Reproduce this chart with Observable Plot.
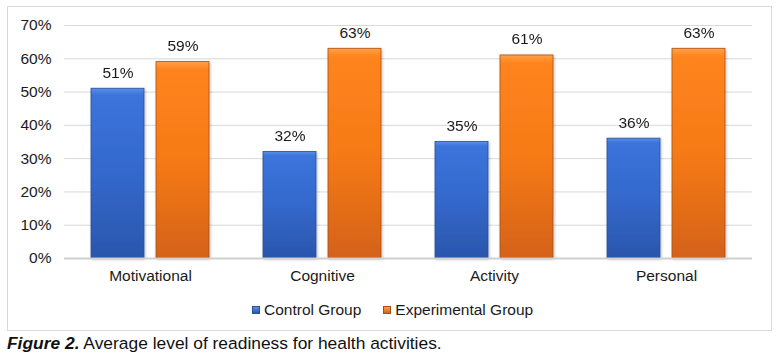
<!DOCTYPE html>
<html><head><meta charset="utf-8">
<script src="https://cdn.jsdelivr.net/npm/d3@7"></script>
<script src="https://cdn.jsdelivr.net/npm/@observablehq/plot@0.6"></script>
<style>
body{margin:0;background:#fff;font-family:"Liberation Sans",Arial,sans-serif;}
#wrap{position:relative;width:780px;height:357px;overflow:hidden;}
#frame{position:absolute;left:7px;top:6px;width:765px;height:325px;border:1px solid #d9d9d9;box-sizing:border-box;}
#chart{position:absolute;left:0;top:0;}
#legend{position:absolute;left:252px;top:301px;font-size:15.5px;color:#1a1a1a;display:flex;align-items:center;white-space:nowrap;}
#legend .sw{display:inline-block;width:8px;height:8px;margin-right:4px;box-sizing:border-box;}
#legend .item{display:flex;align-items:center;margin-right:22px;}
#caption{position:absolute;left:7px;top:333px;font-size:17.4px;color:#111;white-space:nowrap;}
</style>
</head><body>
<div id="wrap">
  <div id="frame"></div>
  <div id="chart"></div>
  <div id="legend"></div>
  <div id="caption"><b><i>Figure 2.</i></b> Average level of readiness for health activities.</div>
</div>
<script>
const categories = ["Motivational", "Cognitive", "Activity", "Personal"];
const groups = ["Control Group", "Experimental Group"];
const controlValues = [0.51, 0.32, 0.35, 0.36];
const experimentalValues = [0.59, 0.63, 0.61, 0.63];
const yTicks = [0, 0.1, 0.2, 0.3, 0.4, 0.5, 0.6, 0.7];

const rows = [];
categories.forEach((c, i) => {
  rows.push({category: c, group: groups[0], value: controlValues[i]});
  rows.push({category: c, group: groups[1], value: experimentalValues[i]});
});

const svg = Plot.plot({
  width: 780,
  height: 290,
  marginLeft: 62,
  marginRight: 27,
  marginTop: 25,
  marginBottom: 32,
  style: {fontFamily: "'Liberation Sans', Arial, sans-serif", fontSize: "15.5px", color: "#1a1a1a", background: "transparent"},
  fx: {domain: categories, padding: 0, label: null},
  x: {domain: groups, axis: null, paddingInner: 0.182, paddingOuter: 0.4},
  y: {domain: [0, 0.7], label: null},
  color: {domain: groups, range: ["url(#gBlue)", "url(#gOrange)"]},
  marks: [
    Plot.gridY(yTicks, {stroke: "#d9d9d9", strokeOpacity: 1, strokeWidth: 1}),
    Plot.axisY(yTicks, {tickFormat: d3.format(".0%"), tickSize: 0, tickPadding: 13, label: null, fill: "#1a1a1a", fontSize: 15.5}),
    Plot.axisFx({anchor: "bottom", tickSize: 0, tickPadding: 11, label: null, fill: "#1a1a1a", fontSize: 15.5}),
    Plot.barY(rows, {fx: "category", x: "group", y: "value", fill: "group",
      stroke: d => d.group === groups[0] ? "#2a4e96" : "#a8500f", strokeWidth: 0.8}),
    Plot.ruleY([0], {stroke: "#d0d0d0", strokeWidth: 2}),
    Plot.text(rows, {fx: "category", x: "group", y: "value", text: d => d3.format(".0%")(d.value),
      lineAnchor: "bottom", dy: -11, fill: "#1a1a1a", fontSize: 15.5})
  ]
});

const defs = `
<defs>
  <linearGradient id="gBlue" x1="0" y1="0" x2="0" y2="1">
    <stop offset="0" stop-color="#5b8fe8"/>
    <stop offset="0.04" stop-color="#3b74dc"/>
    <stop offset="0.5" stop-color="#3468cc"/>
    <stop offset="1" stop-color="#2a56ac"/>
  </linearGradient>
  <linearGradient id="gOrange" x1="0" y1="0" x2="0" y2="1">
    <stop offset="0" stop-color="#ffa04a"/>
    <stop offset="0.04" stop-color="#ff841c"/>
    <stop offset="0.5" stop-color="#f67a18"/>
    <stop offset="1" stop-color="#d4621a"/>
  </linearGradient>
  <filter id="shadow" x="-20%" y="-5%" width="140%" height="110%">
    <feDropShadow dx="1" dy="1" stdDeviation="1.5" flood-color="#000" flood-opacity="0.25"/>
  </filter>
</defs>`;
svg.insertAdjacentHTML("afterbegin", defs);
svg.querySelectorAll('g[aria-label="bar"]').forEach(g => g.setAttribute("filter", "url(#shadow)"));
document.getElementById("chart").appendChild(svg);

const legend = document.getElementById("legend");
const swatchStyles = [
  "background:linear-gradient(#5b8fe8,#2a56ac);border:1px solid #2a4e96;",
  "background:linear-gradient(#ffa04a,#d4621a);border:1px solid #a8500f;"
];
groups.forEach((g, i) => {
  const item = document.createElement("span");
  item.className = "item";
  item.innerHTML = `<span class="sw" style="${swatchStyles[i]}"></span><span>${g}</span>`;
  legend.appendChild(item);
});
</script>
</body></html>
